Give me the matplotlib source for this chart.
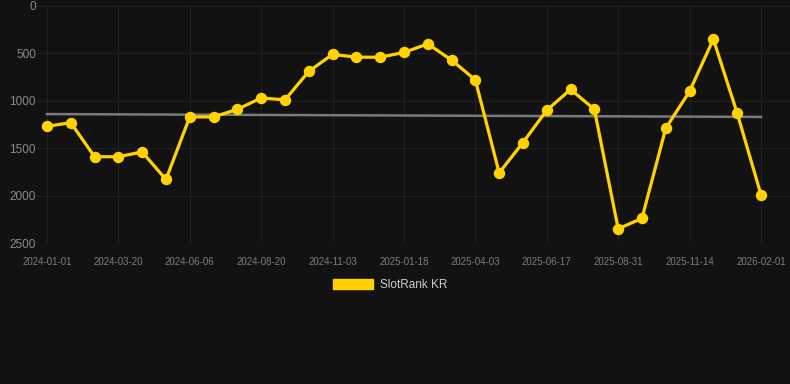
import matplotlib
matplotlib.use("Agg")
import matplotlib.pyplot as plt
from matplotlib.patches import Patch

plt.rcParams['font.family'] = ['Liberation Sans', 'DejaVu Sans']

# Data
tick_labels = ["2024-01-01", "2024-03-20", "2024-06-06", "2024-08-20", "2024-11-03",
               "2025-01-18", "2025-04-03", "2025-06-17", "2025-08-31", "2025-11-14",
               "2026-02-01"]
rank_values = [1270, 1230, 1590, 1590, 1540, 1830, 1170, 1170, 1090, 970,
               990, 690, 510, 540, 540, 490, 400, 570, 780, 1760,
               1440, 1100, 880, 1090, 2350, 2240, 1290, 900, 350, 1130,
               1990]
trend_values = [1140, 1170]
series_label = "SlotRank KR"

BG = "#121212"
YELLOW = "#FFD200"

fig = plt.figure(figsize=(7.9, 3.84), dpi=100, facecolor=BG)
ax = fig.add_axes([36/790, 1 - 243/384, (790-36)/790, (243-6)/384])
ax.set_facecolor(BG)

x = list(range(len(rank_values)))
ax.plot([x[0], x[-1]], trend_values, color="#7a7a7a", lw=1.8, zorder=2)
ax.plot(x, rank_values, color=YELLOW, lw=2.3, marker="o", markersize=7.2,
        markerfacecolor=YELLOW, markeredgecolor=YELLOW, zorder=3)

ax.set_ylim(2500, 0)
ax.set_xlim(-0.46, 31.22)
ax.set_yticks([0, 500, 1000, 1500, 2000, 2500])
ax.set_xticks(list(range(0, len(rank_values), 3)))
ax.set_xticklabels(tick_labels)

ax.grid(True, color="#202020", lw=0.8)
ax.set_axisbelow(True)
for s in ax.spines.values():
    s.set_visible(False)
ax.tick_params(axis="y", length=0, pad=0, labelsize=8.5, labelcolor="#8a8a8a")
ax.tick_params(axis="x", length=0, pad=10, labelsize=7, labelcolor="#7d7d7d")

leg = fig.legend(handles=[Patch(facecolor=YELLOW, edgecolor=YELLOW)], labels=[series_label],
                 loc="center", bbox_to_anchor=(390/790, 1 - 285/384), frameon=False,
                 fontsize=8.5, handlelength=3.4, handleheight=0.85, handletextpad=0.6,
                 labelcolor="#cccccc")

fig.savefig("out.png", dpi=100, facecolor=BG)
